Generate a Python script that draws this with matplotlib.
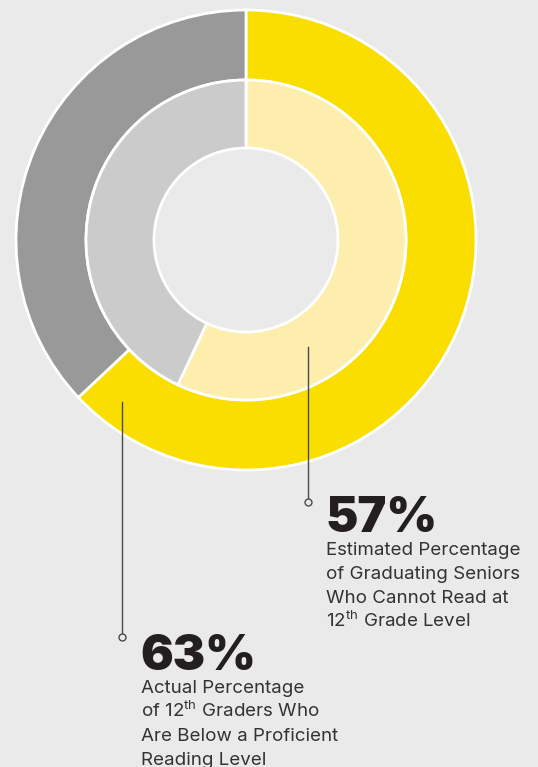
import matplotlib.pyplot as plt

plt.rcParams['font.family'] = ['Inter', 'DejaVu Sans']
plt.rcParams['mathtext.fontset'] = 'custom'
plt.rcParams['mathtext.rm'] = 'Inter'
plt.rcParams['mathtext.it'] = 'Inter'

# Доля учнів нижче рівня (зовнішнє кільце) і оцінка (внутрішнє)
outer_values = [63, 37]
inner_values = [57, 43]

outer_colors = ['#f9de00', '#999999']
inner_colors = ['#fdeeae', '#cbcbcb']

outer_text = [
    'Actual Percentage',
    'of 12$^{th}$ Graders Who',
    'Are Below a Proficient',
    'Reading Level'
]

inner_text = [
    'Estimated Percentage',
    'of Graduating Seniors',
    'Who Cannot Read at',
    '12$^{th}$ Grade Level'
]

W, H = 538, 767
bg = '#eaeaea'

fig = plt.figure(
    figsize=(W / 100, H / 100),
    dpi=100,
    facecolor=bg
)

ax = fig.add_axes([0, 0, 1, 1])
ax.set_facecolor(bg)

cx, cy = 246, H - 240

# Зовнішнє кільце
ax.pie(
    outer_values,
    colors=outer_colors,
    radius=230,
    center=(cx, cy),
    startangle=90,
    counterclock=False,
    wedgeprops=dict(width=70, edgecolor='white', linewidth=2)
)

# Внутрішнє кільце
ax.pie(
    inner_values,
    colors=inner_colors,
    radius=160,
    center=(cx, cy),
    startangle=90,
    counterclock=False,
    wedgeprops=dict(width=68, edgecolor='white', linewidth=2)
)

ax.set_xlim(0, W)
ax.set_ylim(0, H)
ax.set_aspect('equal')
ax.axis('off')

line_color = '#4a4a4a'
text_color = '#231f20'


# Виноска: лінія з кружечком і підпис
def callout(x, y_top, y_bottom, value, lines, tx, ty):

    ax.plot(
        [x, x],
        [H - y_top, H - y_bottom + 3],
        color=line_color,
        linewidth=1
    )

    ax.plot(
        x,
        H - y_bottom,
        marker='o',
        markersize=5,
        markerfacecolor=bg,
        markeredgecolor=line_color,
        markeredgewidth=1
    )

    ax.text(
        tx,
        H - ty,
        f'{value}%',
        fontsize=35,
        fontweight='black',
        color=text_color,
        ha='left',
        va='baseline'
    )

    for i, line in enumerate(lines):

        ax.text(
            tx + 1,
            H - (ty + 23 + 24 * i),
            line,
            fontsize=13.5,
            color='#333333',
            ha='left',
            va='baseline'
        )


callout(308, 347, 502, inner_values[0], inner_text, 325, 532)

callout(122, 402, 637, outer_values[0], outer_text, 140, 670)

fig.savefig('out.png', dpi=100, facecolor=bg)
